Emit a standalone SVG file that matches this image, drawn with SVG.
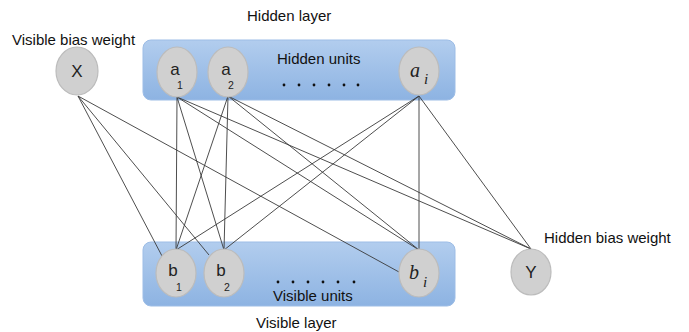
<svg xmlns="http://www.w3.org/2000/svg" width="689" height="332" viewBox="0 0 689 332">
<defs>
<linearGradient id="boxg" x1="0" y1="0" x2="0" y2="1">
<stop offset="0" stop-color="#b2cdee"/>
<stop offset="1" stop-color="#8db3e2"/>
</linearGradient>
</defs>
<style>
.box{fill:url(#boxg);stroke:#9dbde6;stroke-width:1}
.node{fill:#d0d0d0;stroke:#bcbcbc;stroke-width:1.2}
.edge{stroke:#3a3a3a;stroke-width:0.9;fill:none}
.lbl{font-family:"Liberation Sans",Arial,sans-serif;font-size:15px;fill:#111}
.nl{font-family:"Liberation Sans",Arial,sans-serif;font-size:17px;fill:#222;text-anchor:middle}
.sub{font-family:"Liberation Sans",Arial,sans-serif;font-size:10.5px;fill:#222;text-anchor:middle}
.it{font-family:"Liberation Serif","Times New Roman",serif;font-style:italic;fill:#222;text-anchor:middle}
.dot{fill:#111}
</style>
<g id="layers">
<rect class="box" x="143" y="40" width="312" height="60" rx="8"/>
<rect class="box" x="143" y="242" width="312" height="64" rx="8"/>
</g>
<g id="connectors">
<line class="edge" x1="78" y1="96" x2="162" y2="256"/>
<line class="edge" x1="78" y1="96" x2="209" y2="255"/>
<line class="edge" x1="78" y1="96" x2="399" y2="272"/>
<line class="edge" x1="177" y1="97" x2="176" y2="250"/>
<line class="edge" x1="177" y1="97" x2="224" y2="250"/>
<line class="edge" x1="177" y1="97" x2="419" y2="250"/>
<line class="edge" x1="177" y1="97" x2="531" y2="249"/>
<line class="edge" x1="228" y1="96" x2="176" y2="250"/>
<line class="edge" x1="228" y1="96" x2="224" y2="250"/>
<line class="edge" x1="228" y1="96" x2="419" y2="250"/>
<line class="edge" x1="228" y1="96" x2="531" y2="249"/>
<line class="edge" x1="419" y1="96" x2="176" y2="250"/>
<line class="edge" x1="419" y1="96" x2="224" y2="250"/>
<line class="edge" x1="419" y1="96" x2="419" y2="250"/>
<line class="edge" x1="419" y1="96" x2="531" y2="249"/>
</g>
<g id="node-X">
<ellipse class="node" cx="77" cy="71" rx="21" ry="24"/>
<text class="nl" x="77" y="77" font-size="16">X</text>
</g>
<g id="node-a1">
<ellipse class="node" cx="177" cy="72" rx="20" ry="25"/>
<text class="nl" x="175" y="75">a</text>
<text class="sub" x="180" y="89">1</text>
</g>
<g id="node-a2">
<ellipse class="node" cx="228" cy="72" rx="20" ry="25"/>
<text class="nl" x="226" y="75">a</text>
<text class="sub" x="231" y="89">2</text>
</g>
<g id="node-ai">
<ellipse class="node" cx="419" cy="71" rx="20" ry="24"/>
<text class="it" x="415" y="77" font-size="20">a</text>
<text class="it" x="426" y="84" font-size="15">i</text>
</g>
<g id="node-b1">
<ellipse class="node" cx="176" cy="273" rx="20" ry="24"/>
<text class="nl" x="173" y="276">b</text>
<text class="sub" x="179" y="291">1</text>
</g>
<g id="node-b2">
<ellipse class="node" cx="224" cy="273" rx="20" ry="24"/>
<text class="nl" x="221" y="276">b</text>
<text class="sub" x="227" y="291">2</text>
</g>
<g id="node-bi">
<ellipse class="node" cx="419" cy="273" rx="20" ry="24"/>
<text class="it" x="414" y="279" font-size="20">b</text>
<text class="it" x="425" y="287" font-size="15">i</text>
</g>
<g id="node-Y">
<ellipse class="node" cx="531" cy="272" rx="20" ry="23"/>
<text class="nl" x="531" y="278" font-size="15">Y</text>
</g>
<g id="labels">
<text class="lbl" x="247" y="21">Hidden layer</text>
<text class="lbl" x="12" y="45">Visible bias weight</text>
<text class="lbl" x="277" y="64">Hidden units</text>
<text class="lbl" x="544" y="243">Hidden bias weight</text>
<text class="lbl" x="273" y="301">Visible units</text>
<text class="lbl" x="256" y="328">Visible layer</text>
</g>
<g id="dots">
<circle class="dot" cx="284" cy="85" r="1.4"/>
<circle class="dot" cx="299" cy="85" r="1.4"/>
<circle class="dot" cx="314" cy="85" r="1.4"/>
<circle class="dot" cx="329" cy="85" r="1.4"/>
<circle class="dot" cx="344" cy="85" r="1.4"/>
<circle class="dot" cx="358" cy="85" r="1.4"/>
<circle class="dot" cx="278" cy="282" r="1.4"/>
<circle class="dot" cx="293" cy="282" r="1.4"/>
<circle class="dot" cx="308" cy="282" r="1.4"/>
<circle class="dot" cx="323" cy="282" r="1.4"/>
<circle class="dot" cx="338" cy="282" r="1.4"/>
<circle class="dot" cx="354" cy="282" r="1.4"/>
</g>
</svg>
